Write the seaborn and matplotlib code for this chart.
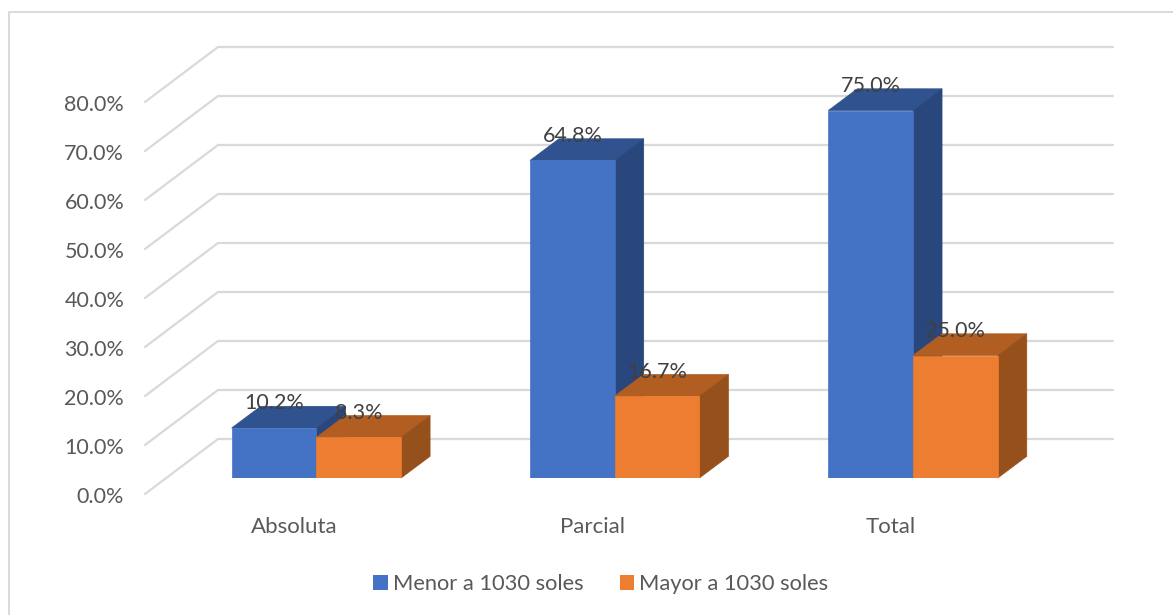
import matplotlib
matplotlib.use("Agg")
import matplotlib.pyplot as plt
import pandas as pd
import seaborn as sns
from matplotlib.lines import Line2D
from matplotlib.patches import Patch, Polygon
from matplotlib.transforms import ScaledTranslation

categories = ["Absoluta", "Parcial", "Total"]
series_names = ["Menor a 1030 soles", "Mayor a 1030 soles"]
menor_values = [10.2, 64.8, 75.0]
mayor_values = [8.3, 16.7, 25.0]
y_ticks = [0, 10, 20, 30, 40, 50, 60, 70, 80]

W, H = 1173, 615
FONT = ["Lato", "DejaVu Sans"]
AXIS_GREY = "#595959"
LABEL_GREY = "#404040"
GRID_GREY = "#D9D9D9"
FRONT = ["#4472C4", "#ED7D31"]
TOP = ["#30538F", "#B25E22"]
SIDE = ["#29477D", "#96501B"]

# pixel geometry of the fake 3d box, all measured on the reference
X0, X1, Y0, Y80 = 145, 1040, 494, 102
BAR_DX, BAR_DY = 22.2, 16.0
WALL_DX, WALL_DY = 73, 55
SIDE_DX, SIDE_DY = 29, 21.7


def px_rect(x0, x1, y_bottom, y_top):
    return [x0 / W, 1 - y_bottom / H, (x1 - x0) / W, (y_bottom - y_top) / H]


def main():
    sns.set_theme(style="white")
    plt.rcParams["font.family"] = FONT

    df = pd.DataFrame({
        "categoria": categories * 2,
        "grupo": [series_names[0]] * 3 + [series_names[1]] * 3,
        "valor": menor_values + mayor_values,
    })

    fig = plt.figure(figsize=(W / 100, H / 100), dpi=100, facecolor="white")

    # Axis with the ticks and the walls
    ax = fig.add_axes(px_rect(X0, X1, Y0, Y80))
    ax.set_xlim(-0.5, 2.5)
    ax.set_ylim(0, 80)
    ax.set_xticks(range(len(categories)), categories)
    ax.set_yticks(y_ticks, [f"{v:.1f}%" for v in y_ticks])
    ax.tick_params(axis="x", length=0, labelsize=16, labelcolor=AXIS_GREY, pad=16.5)
    ax.tick_params(axis="y", length=0, labelsize=15.5, labelcolor=AXIS_GREY, pad=15)
    for label in ax.get_yticklabels():
        label.set_transform(label.get_transform() + ScaledTranslation(0, -0.01, fig.dpi_scale_trans))
    sns.despine(ax=ax, left=True, bottom=True)

    x_per_px = 3 / (X1 - X0)
    y_per_px = 80 / (Y0 - Y80)
    wall_dx = WALL_DX * x_per_px
    wall_dy = WALL_DY * y_per_px
    for v in y_ticks:
        ax.plot(
            [-0.5, -0.5 + wall_dx, 2.5 + wall_dx],
            [v, v + wall_dy, v + wall_dy],
            color=GRID_GREY, lw=1.6, clip_on=False, solid_joinstyle="miter", zorder=1,
        )

    # Bars sit a bit deeper in the box, so they get their own shifted axis
    ax_bars = fig.add_axes(px_rect(X0 + BAR_DX, X1 + BAR_DX, Y0 - BAR_DY, Y80 - BAR_DY))
    ax_bars.patch.set_alpha(0)
    sns.barplot(
        data=df, x="categoria", y="valor", hue="grupo", order=categories,
        hue_order=series_names, palette=FRONT, width=0.568, gap=0, saturation=1,
        legend=False, linewidth=0, ax=ax_bars,
    )
    ax_bars.set_xlim(-0.5, 2.5)
    ax_bars.set_ylim(0, 80)
    ax_bars.axis("off")

    side_dx = SIDE_DX * x_per_px
    side_dy = SIDE_DY * y_per_px
    for i, container in enumerate(ax_bars.containers):
        for bar in container:
            left, right = bar.get_x(), bar.get_x() + bar.get_width()
            top = bar.get_height()
            bar.set_zorder(3 + 2 * i)
            bar.set_edgecolor(FRONT[i])
            bar.set_linewidth(0.5)
            ax_bars.add_patch(Polygon(
                [(left, top), (right, top), (right + side_dx, top + side_dy), (left + side_dx, top + side_dy)],
                closed=True, facecolor=TOP[i], edgecolor=TOP[i], lw=0.5, clip_on=False, zorder=2 + 2 * i,
            ))
            ax_bars.add_patch(Polygon(
                [(right, 0), (right + side_dx, side_dy), (right + side_dx, top + side_dy), (right, top)],
                closed=True, facecolor=SIDE[i], edgecolor=SIDE[i], lw=0.5, clip_on=False, zorder=2 + 2 * i,
            ))
        labels = ax_bars.bar_label(
            container, fmt=lambda v: f"{v:.1f}%", padding=10.5,
            fontsize=15.5, color=LABEL_GREY,
        )
        for label in labels:
            label.set_zorder(10)

    handles = [Patch(facecolor=c, edgecolor="none") for c in FRONT]
    fig.legend(
        handles, series_names, ncol=2, loc="center", bbox_to_anchor=(601 / W, 1 - 584 / H),
        frameon=False, fontsize=15.75, labelcolor=AXIS_GREY, handlelength=0.65, handleheight=0.65,
        handletextpad=0.25, columnspacing=1.65,
    )

    # Chart frame, only left and top survive in the crop
    fig.add_artist(Line2D([8.5 / W, 8.5 / W, 1], [0, 1 - 11.5 / H, 1 - 11.5 / H], color=GRID_GREY, lw=1.4))

    fig.savefig("out.png", dpi=100)


if __name__ == "__main__":
    main()
